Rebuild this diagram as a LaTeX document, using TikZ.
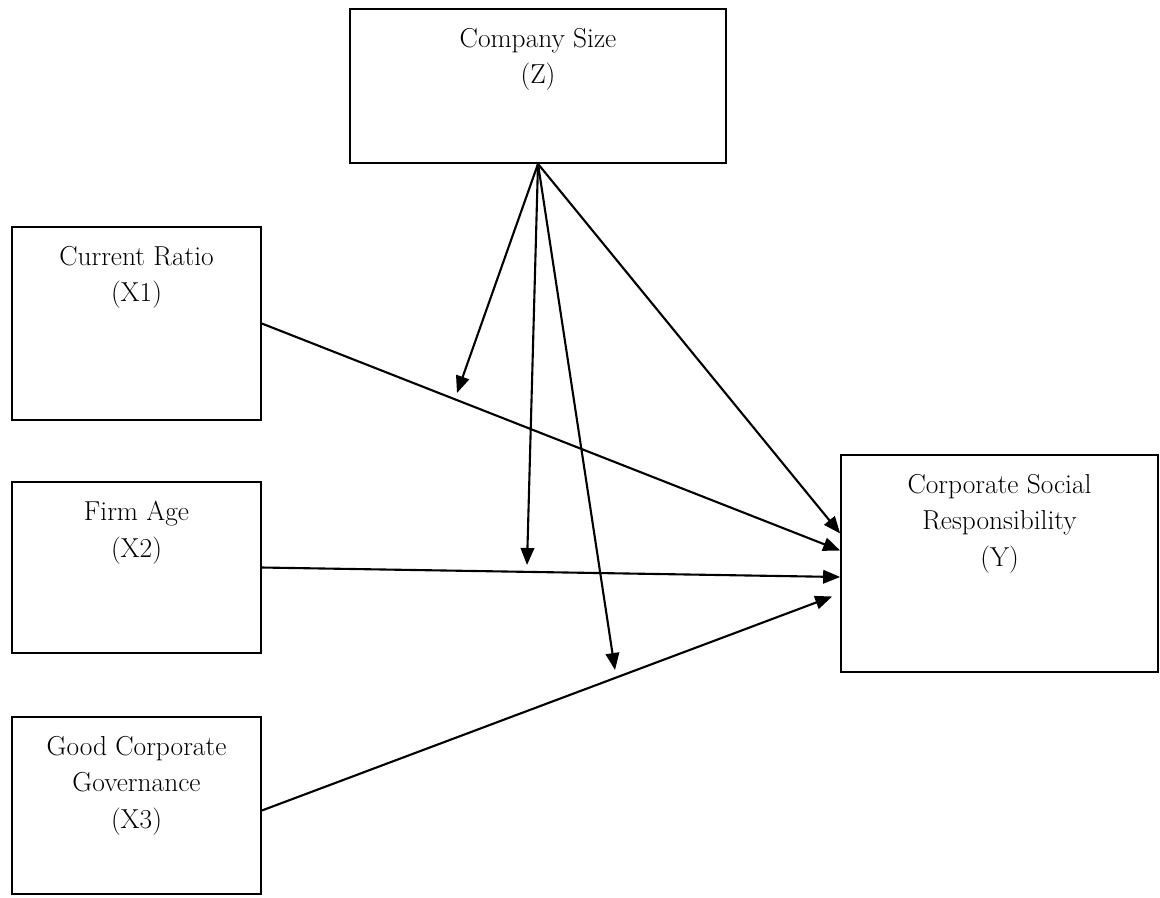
\documentclass[tikz,border=0pt]{standalone}
\usepackage{tikz}
\usetikzlibrary{arrows.meta,positioning,calc}

\begin{document}
\begin{tikzpicture}[x=0.02cm, y=-0.02cm, >={Triangle[length=0.34cm, width=0.27cm]},
  box/.style={draw, line width=1pt, inner sep=0pt},
  txt/.style={align=center, inner sep=0pt, font=\fontsize{15.6}{20.6}\selectfont},
  arr/.style={->, line width=1.2pt}]
\useasboundingbox (0,0) rectangle (1160,897);

\node[box, minimum width=7.52cm, minimum height=3.08cm] (z) at (538,86) {};
\node[box, minimum width=4.98cm, minimum height=3.86cm] (x1) at (136.5,323.5) {};
\node[box, minimum width=4.98cm, minimum height=3.42cm] (x2) at (136.5,567.5) {};
\node[box, minimum width=4.98cm, minimum height=3.54cm] (x3) at (136.5,805.5) {};
\node[box, minimum width=6.34cm, minimum height=4.34cm] (y) at (999.5,563.5) {};

\node[txt, below=0.4cm of z.north] (zt) {Company Size\\(Z)};
\node[txt, below=0.4cm of x1.north] (x1t) {Current Ratio\\(X1)};
\node[txt, below=0.4cm of x2.north] (x2t) {Firm Age\\(X2)};
\node[txt, below=0.4cm of x3.north] (x3t) {Good Corporate\\Governance\\(X3)};
\node[txt, below=0.4cm of y.north] (yt) {Corporate Social\\Responsibility\\(Y)};

% moderation ends
\coordinate (m1) at (457,393);
\coordinate (m2) at (527,565);
\coordinate (m3) at (615,670);

\draw[arr] (x1.east) -- ($(y.west)+(0,-13)$);
\draw[arr] (x2.east) -- ($(y.west)+(0,13.5)$);
\draw[arr] ($(x3.east)+(0,5)$) -- ($(y.west)+(-8,33)$);
\draw[arr] (z.south) -- (m1);
\draw[arr] (z.south) -- (m2);
\draw[arr] (z.south) -- (m3);
\draw[arr] (z.south) -- ($(y.west)+(0,-30)$);
\end{tikzpicture}
\end{document}
